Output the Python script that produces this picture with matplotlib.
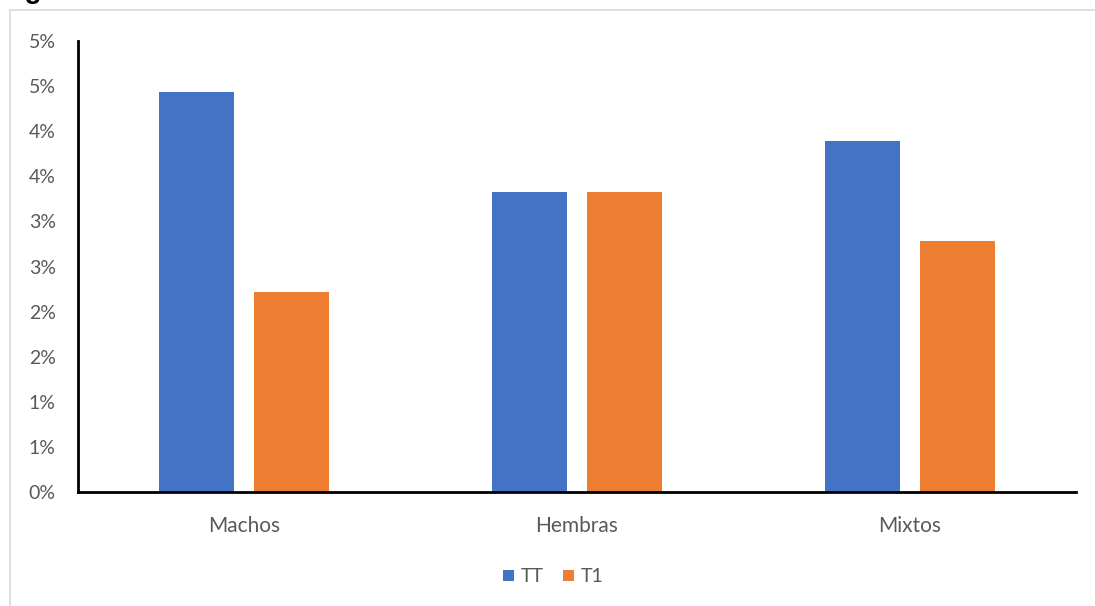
import matplotlib.pyplot as plt
from matplotlib.patches import Rectangle
import numpy as np

# datos
categorias = ['Machos', 'Hembras', 'Mixtos']
tt = [0.0444, 0.0333, 0.0389]
t1 = [0.0222, 0.0333, 0.0278]
ticks_y = [0, 0.005, 0.01, 0.015, 0.02, 0.025, 0.03, 0.035, 0.04, 0.045, 0.05]
etiquetas_y = ['0%', '1%', '1%', '2%', '2%', '3%', '3%', '4%', '4%', '5%', '5%']

azul = '#4472c4'
naranja = '#ed7d31'
gris = '#595959'

plt.rcParams['font.family'] = ['Lato', 'DejaVu Sans']

fig = plt.figure(figsize=(10.95, 6.06), dpi=100)
ax = fig.add_axes([78 / 1095, 1 - 492 / 606, 998 / 1095, 451 / 606])

# marco del gráfico
fig.patches.append(Rectangle((10 / 1095, -0.1), 1.2, 1 - 10 / 606 + 0.1,
                             transform=fig.transFigure, fill=False,
                             edgecolor='#d9d9d9', linewidth=1.2))

# título cortado arriba
fig.text(0.0, 1 + 1.5 / 606, 'Figura 3. Tasa de mortalidad', fontsize=20,
         fontweight='bold', family='Liberation Sans', va='baseline', ha='left')

x = np.arange(len(categorias))
ancho = 0.225
desp = 0.143
ax.bar(x - desp, tt, ancho, color=azul, label='TT')
ax.bar(x + desp, t1, ancho, color=naranja, label='T1')

ax.set_xlim(-0.5, 2.5)
ax.set_ylim(0, 0.05)
ax.set_yticks(ticks_y)
ax.set_yticklabels(etiquetas_y)
ax.set_xticks(x)
ax.set_xticklabels(categorias)
ax.tick_params(axis='y', length=0, pad=16, labelsize=14, labelcolor=gris)
ax.tick_params(axis='x', length=0, pad=17, labelsize=15, labelcolor=gris)

for s in ['top', 'right']:
    ax.spines[s].set_visible(False)
ax.spines['left'].set_linewidth(2)
ax.spines['bottom'].set_linewidth(2)

leg = fig.legend(loc='center', bbox_to_anchor=(553 / 1095, 1 - 577 / 606), ncol=2,
                 frameon=False, fontsize=14, handlelength=0.55, handleheight=0.55,
                 handletextpad=0.35, columnspacing=1.0)
for t in leg.get_texts():
    t.set_color(gris)

fig.savefig('out.png', dpi=100)
